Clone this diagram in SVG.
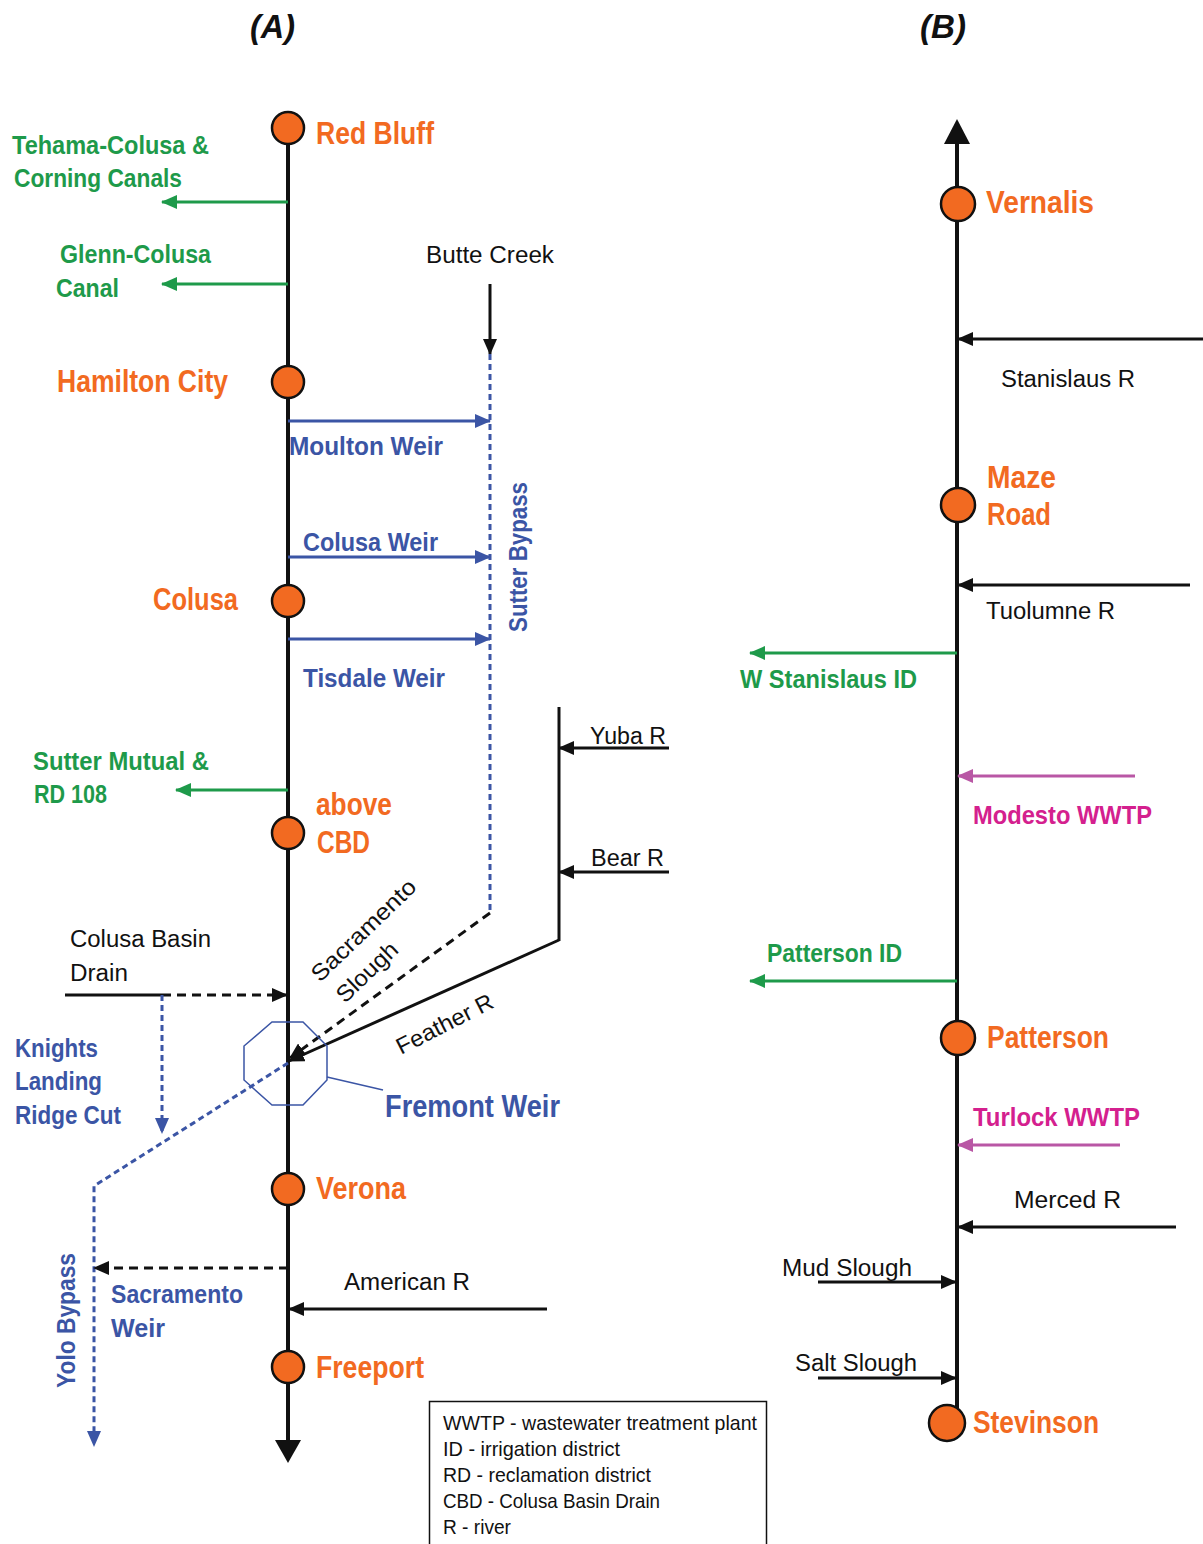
<svg xmlns="http://www.w3.org/2000/svg" width="1203" height="1544" viewBox="0 0 1203 1544">
<defs>
<style>
.bold{font-family:"Liberation Sans",Arial,sans-serif;font-weight:bold}
.reg{font-family:"Liberation Sans",Arial,sans-serif;font-weight:normal;fill:#111}
.site{fill:#F26A21;font-size:31px}
.green{fill:#1E9A4A;font-size:26px}
.blue{fill:#3B55A5;font-size:26px}
.mag{fill:#D4208E;font-size:26px}
.lbl{font-size:23px}
.leg{font-size:21px}
.title{font-family:"Liberation Sans",Arial,sans-serif;font-weight:bold;font-style:italic;font-size:33px;fill:#111}
.node{fill:#F26A21;stroke:#111;stroke-width:2.5}
.main{stroke:#111;stroke-width:4;fill:none}
.blk{stroke:#111;stroke-width:3;fill:none}
.blkd{stroke:#111;stroke-width:3;fill:none;stroke-dasharray:9,6}
.grn{stroke:#1E9A4A;stroke-width:3;fill:none}
.blu{stroke:#3B55A5;stroke-width:3;fill:none}
.blud{stroke:#3B55A5;stroke-width:3;fill:none;stroke-dasharray:6,4}
.mg{stroke:#B957A5;stroke-width:3;fill:none}
</style>
<marker id="ak" markerUnits="userSpaceOnUse" markerWidth="16" markerHeight="14" refX="15" refY="7" orient="auto"><path d="M0,0 L16,7 L0,14 z" fill="#111"/></marker>
<marker id="ag" markerUnits="userSpaceOnUse" markerWidth="16" markerHeight="14" refX="15" refY="7" orient="auto"><path d="M0,0 L16,7 L0,14 z" fill="#1E9A4A"/></marker>
<marker id="ab" markerUnits="userSpaceOnUse" markerWidth="16" markerHeight="14" refX="15" refY="7" orient="auto"><path d="M0,0 L16,7 L0,14 z" fill="#3B55A5"/></marker>
<marker id="am" markerUnits="userSpaceOnUse" markerWidth="16" markerHeight="14" refX="15" refY="7" orient="auto"><path d="M0,0 L16,7 L0,14 z" fill="#B957A5"/></marker>
</defs>
<rect width="1203" height="1544" fill="#fff"/>

<text class="title" x="250" y="38" textLength="45" lengthAdjust="spacingAndGlyphs">(A)</text>
<text class="title" x="920" y="38" textLength="46" lengthAdjust="spacingAndGlyphs">(B)</text>

<g id="connectors">
  <line class="main" x1="288" y1="128" x2="288" y2="1442"/>
  <polygon points="275,1440 301,1440 288,1463" fill="#111"/>
  <line class="grn" x1="288" y1="202" x2="162" y2="202" marker-end="url(#ag)"/>
  <line class="grn" x1="288" y1="284" x2="162" y2="284" marker-end="url(#ag)"/>
  <line class="grn" x1="288" y1="790" x2="176" y2="790" marker-end="url(#ag)"/>
  <line class="blk" x1="490" y1="284" x2="490" y2="354" marker-end="url(#ak)"/>
  <line class="blud" x1="490" y1="354" x2="490" y2="913"/>
  <line class="blu" x1="288" y1="421" x2="490" y2="421" marker-end="url(#ab)"/>
  <line class="blu" x1="288" y1="557" x2="490" y2="557" marker-end="url(#ab)"/>
  <line class="blu" x1="288" y1="639" x2="490" y2="639" marker-end="url(#ab)"/>
  <line class="blkd" x1="490" y1="913" x2="290" y2="1058" marker-end="url(#ak)"/>
  <line class="blk" x1="559" y1="707" x2="559" y2="941"/>
  <line class="blk" x1="669" y1="748" x2="559" y2="748" marker-end="url(#ak)"/>
  <line class="blk" x1="669" y1="872" x2="559" y2="872" marker-end="url(#ak)"/>
  <line class="blk" x1="559" y1="940" x2="289" y2="1061" marker-end="url(#ak)"/>
  <line class="blk" x1="65" y1="995" x2="162" y2="995"/>
  <line class="blkd" x1="162" y1="995" x2="287" y2="995" marker-end="url(#ak)"/>
  <line class="blud" x1="162" y1="995" x2="162" y2="1133" marker-end="url(#ab)"/>
  <polyline class="blud" points="288,1063 94,1186 94,1446" marker-end="url(#ab)"/>
  <line class="blkd" x1="288" y1="1268" x2="94" y2="1268" marker-end="url(#ak)"/>
  <line class="blk" x1="547" y1="1309" x2="289" y2="1309" marker-end="url(#ak)"/>
  <polyline points="327,1077 383,1090" fill="none" stroke="#3B55A5" stroke-width="1.5"/>

  <line class="main" x1="957" y1="140" x2="957" y2="1408"/>
  <polygon points="944,144 970,144 957,119" fill="#111"/>
  <line class="blk" x1="1203" y1="339" x2="958" y2="339" marker-end="url(#ak)"/>
  <line class="blk" x1="1190" y1="585" x2="958" y2="585" marker-end="url(#ak)"/>
  <line class="grn" x1="957" y1="653" x2="750" y2="653" marker-end="url(#ag)"/>
  <line class="mg" x1="1135" y1="776" x2="958" y2="776" marker-end="url(#am)"/>
  <line class="grn" x1="957" y1="981" x2="750" y2="981" marker-end="url(#ag)"/>
  <line class="mg" x1="1120" y1="1145" x2="958" y2="1145" marker-end="url(#am)"/>
  <line class="blk" x1="1176" y1="1227" x2="958" y2="1227" marker-end="url(#ak)"/>
  <line class="blk" x1="818" y1="1282" x2="956" y2="1282" marker-end="url(#ak)"/>
  <line class="blk" x1="818" y1="1378" x2="956" y2="1378" marker-end="url(#ak)"/>
</g>

<g id="fremont-weir">
  <polygon points="272,1022 303,1022 327,1046 327,1080 303,1105 272,1105 244,1080 244,1046" fill="none" stroke="#3B55A5" stroke-width="1.5"/>
  <text class="bold blue" x="385" y="1117" style="font-size:31px" textLength="175" lengthAdjust="spacingAndGlyphs">Fremont Weir</text>
</g>

<g id="red-bluff"><circle class="node" cx="288" cy="128" r="16"/><text class="bold site" x="316" y="144" textLength="118" lengthAdjust="spacingAndGlyphs">Red Bluff</text></g>
<g id="hamilton-city"><circle class="node" cx="288" cy="382" r="16"/><text class="bold site" x="57" y="392" textLength="171" lengthAdjust="spacingAndGlyphs">Hamilton City</text></g>
<g id="colusa"><circle class="node" cx="288" cy="601" r="16"/><text class="bold site" x="153" y="610" textLength="85" lengthAdjust="spacingAndGlyphs">Colusa</text></g>
<g id="above-cbd"><circle class="node" cx="288" cy="833" r="16"/><text class="bold site" x="316" y="815" textLength="76" lengthAdjust="spacingAndGlyphs">above</text><text class="bold site" x="317" y="853" textLength="53" lengthAdjust="spacingAndGlyphs">CBD</text></g>
<g id="verona"><circle class="node" cx="288" cy="1189" r="16"/><text class="bold site" x="316" y="1199" textLength="90" lengthAdjust="spacingAndGlyphs">Verona</text></g>
<g id="freeport"><circle class="node" cx="288" cy="1367" r="16"/><text class="bold site" x="316" y="1378" textLength="108" lengthAdjust="spacingAndGlyphs">Freeport</text></g>

<g id="tehama-colusa"><text class="bold green" x="12" y="154" textLength="197" lengthAdjust="spacingAndGlyphs">Tehama-Colusa &amp;</text><text class="bold green" x="14" y="187" textLength="168" lengthAdjust="spacingAndGlyphs">Corning Canals</text></g>
<g id="glenn-colusa"><text class="bold green" x="60" y="263" textLength="151" lengthAdjust="spacingAndGlyphs">Glenn-Colusa</text><text class="bold green" x="56" y="297" textLength="63" lengthAdjust="spacingAndGlyphs">Canal</text></g>
<g id="sutter-mutual"><text class="bold green" x="33" y="770" textLength="176" lengthAdjust="spacingAndGlyphs">Sutter Mutual &amp;</text><text class="bold green" x="34" y="803" textLength="73" lengthAdjust="spacingAndGlyphs">RD 108</text></g>

<g id="butte-creek"><text class="reg lbl" x="426" y="263" textLength="128" lengthAdjust="spacingAndGlyphs">Butte Creek</text></g>
<g id="moulton-weir"><text class="bold blue" x="289" y="455" textLength="154" lengthAdjust="spacingAndGlyphs">Moulton Weir</text></g>
<g id="colusa-weir"><text class="bold blue" x="303" y="551" textLength="135" lengthAdjust="spacingAndGlyphs">Colusa Weir</text></g>
<g id="tisdale-weir"><text class="bold blue" x="303" y="687" textLength="142" lengthAdjust="spacingAndGlyphs">Tisdale Weir</text></g>
<g id="sutter-bypass"><text class="bold blue" transform="translate(527,632) rotate(-90)" textLength="150" lengthAdjust="spacingAndGlyphs">Sutter Bypass</text></g>
<g id="yuba-r"><text class="reg lbl" x="590" y="744" textLength="76" lengthAdjust="spacingAndGlyphs">Yuba R</text></g>
<g id="bear-r"><text class="reg lbl" x="591" y="866" textLength="73" lengthAdjust="spacingAndGlyphs">Bear R</text></g>
<g id="sacramento-slough"><text class="reg lbl" transform="translate(320,983) rotate(-44)" textLength="136" lengthAdjust="spacingAndGlyphs">Sacramento</text><text class="reg lbl" transform="translate(345,1004) rotate(-44)" textLength="76" lengthAdjust="spacingAndGlyphs">Slough</text></g>
<g id="feather-r"><text class="reg lbl" transform="translate(401,1055) rotate(-27)" textLength="106" lengthAdjust="spacingAndGlyphs">Feather R</text></g>
<g id="colusa-basin-drain"><text class="reg lbl" x="70" y="947" textLength="141" lengthAdjust="spacingAndGlyphs">Colusa Basin</text><text class="reg lbl" x="70" y="981" textLength="58" lengthAdjust="spacingAndGlyphs">Drain</text></g>
<g id="knights-landing"><text class="bold blue" x="15" y="1057" textLength="83" lengthAdjust="spacingAndGlyphs">Knights</text><text class="bold blue" x="15" y="1090" textLength="87" lengthAdjust="spacingAndGlyphs">Landing</text><text class="bold blue" x="15" y="1124" textLength="106" lengthAdjust="spacingAndGlyphs">Ridge Cut</text></g>
<g id="yolo-bypass"><text class="bold blue" transform="translate(75,1388) rotate(-90)" textLength="135" lengthAdjust="spacingAndGlyphs">Yolo Bypass</text></g>
<g id="sacramento-weir"><text class="bold blue" x="111" y="1303" textLength="132" lengthAdjust="spacingAndGlyphs">Sacramento</text><text class="bold blue" x="111" y="1337" textLength="54" lengthAdjust="spacingAndGlyphs">Weir</text></g>
<g id="american-r"><text class="reg lbl" x="344" y="1290" textLength="126" lengthAdjust="spacingAndGlyphs">American R</text></g>

<g id="legend">
  <rect x="429.5" y="1401.5" width="337" height="150" fill="none" stroke="#111" stroke-width="1.5"/>
  <text class="reg leg" x="443" y="1430" textLength="314" lengthAdjust="spacingAndGlyphs">WWTP - wastewater treatment plant</text>
  <text class="reg leg" x="443" y="1456" textLength="177" lengthAdjust="spacingAndGlyphs">ID - irrigation district</text>
  <text class="reg leg" x="443" y="1482" textLength="208" lengthAdjust="spacingAndGlyphs">RD - reclamation district</text>
  <text class="reg leg" x="443" y="1508" textLength="217" lengthAdjust="spacingAndGlyphs">CBD - Colusa Basin Drain</text>
  <text class="reg leg" x="443" y="1534" textLength="68" lengthAdjust="spacingAndGlyphs">R - river</text>
</g>

<g id="vernalis"><circle class="node" cx="958" cy="204" r="17"/><text class="bold site" x="986" y="213" textLength="108" lengthAdjust="spacingAndGlyphs">Vernalis</text></g>
<g id="maze-road"><circle class="node" cx="958" cy="505" r="17"/><text class="bold site" x="987" y="488" textLength="69" lengthAdjust="spacingAndGlyphs">Maze</text><text class="bold site" x="987" y="525" textLength="64" lengthAdjust="spacingAndGlyphs">Road</text></g>
<g id="patterson"><circle class="node" cx="958" cy="1038" r="17"/><text class="bold site" x="987" y="1048" textLength="122" lengthAdjust="spacingAndGlyphs">Patterson</text></g>
<g id="stevinson"><circle class="node" cx="947" cy="1423" r="18"/><text class="bold site" x="973" y="1433" textLength="126" lengthAdjust="spacingAndGlyphs">Stevinson</text></g>

<g id="stanislaus-r"><text class="reg lbl" x="1001" y="387" textLength="134" lengthAdjust="spacingAndGlyphs">Stanislaus R</text></g>
<g id="tuolumne-r"><text class="reg lbl" x="986" y="619" textLength="129" lengthAdjust="spacingAndGlyphs">Tuolumne R</text></g>
<g id="w-stanislaus-id"><text class="bold green" x="740" y="688" textLength="177" lengthAdjust="spacingAndGlyphs">W Stanislaus ID</text></g>
<g id="modesto-wwtp"><text class="bold mag" x="973" y="824" textLength="179" lengthAdjust="spacingAndGlyphs">Modesto WWTP</text></g>
<g id="patterson-id"><text class="bold green" x="767" y="962" textLength="135" lengthAdjust="spacingAndGlyphs">Patterson ID</text></g>
<g id="turlock-wwtp"><text class="bold mag" x="973" y="1126" textLength="167" lengthAdjust="spacingAndGlyphs">Turlock WWTP</text></g>
<g id="merced-r"><text class="reg lbl" x="1014" y="1208" textLength="107" lengthAdjust="spacingAndGlyphs">Merced R</text></g>
<g id="mud-slough"><text class="reg lbl" x="782" y="1276" textLength="130" lengthAdjust="spacingAndGlyphs">Mud Slough</text></g>
<g id="salt-slough"><text class="reg lbl" x="795" y="1371" textLength="122" lengthAdjust="spacingAndGlyphs">Salt Slough</text></g>
</svg>
